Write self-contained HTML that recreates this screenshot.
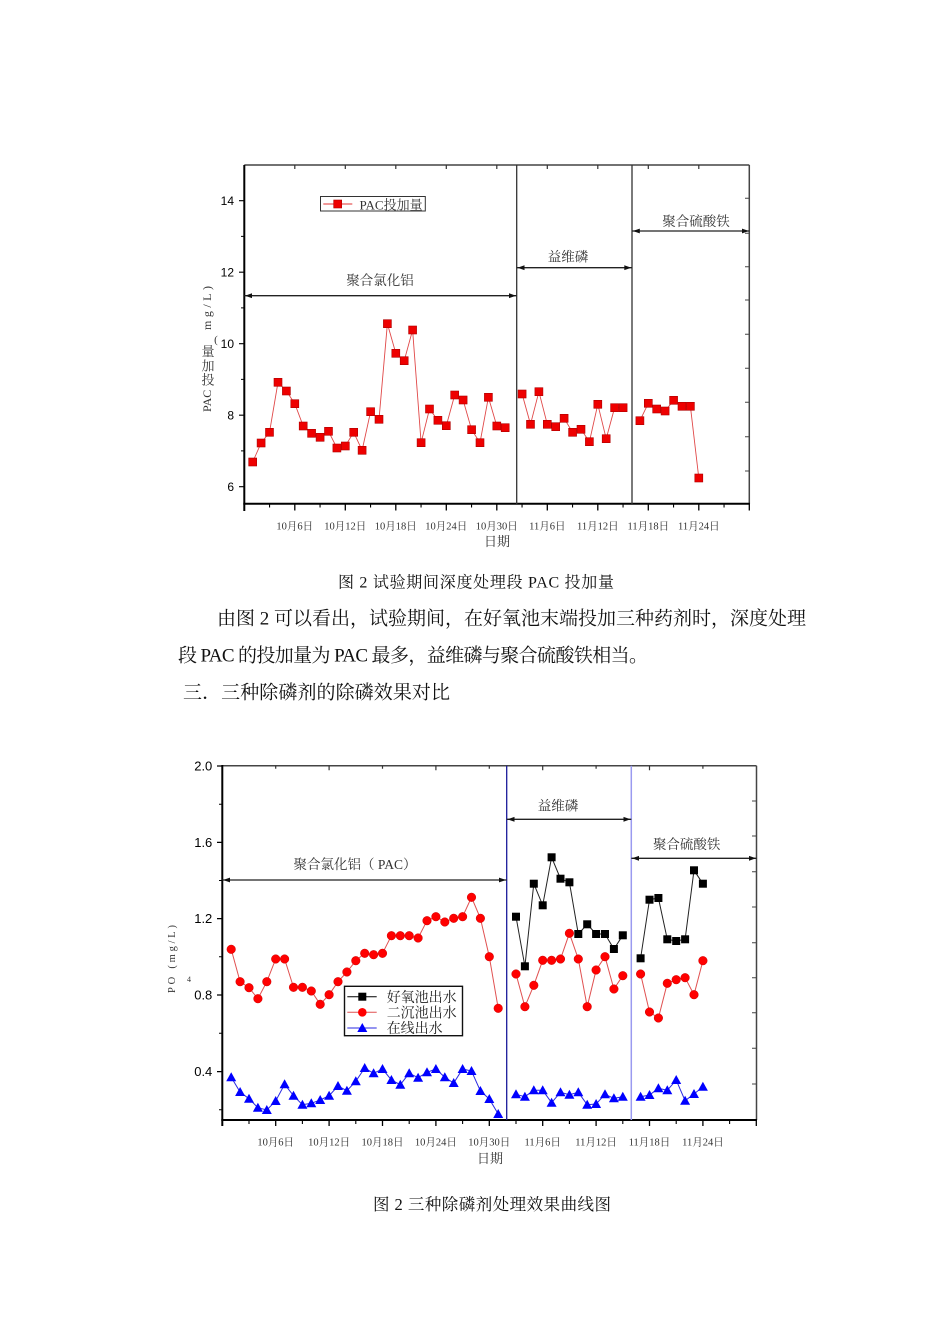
<!DOCTYPE html>
<html><head><meta charset="utf-8">
<style>
html,body{margin:0;padding:0;background:#fff;}
svg{display:block;}
.ser{font-family:"Liberation Serif","Noto Serif CJK SC",serif;}
.san{font-family:"Liberation Sans","Noto Sans CJK SC",sans-serif;}
</style></head>
<body>
<svg width="950" height="1344" viewBox="0 0 950 1344" xmlns="http://www.w3.org/2000/svg">
<defs>
<marker id="sqR" markerUnits="userSpaceOnUse" markerWidth="10" markerHeight="10" refX="5" refY="5" overflow="visible"><rect x="1" y="1" width="8" height="8" fill="#ee0000" stroke="#b00000" stroke-width="0.6"/></marker>
<marker id="ciR" markerUnits="userSpaceOnUse" markerWidth="10" markerHeight="10" refX="5" refY="5" overflow="visible"><circle cx="5" cy="5" r="4.3" fill="#ff0000" stroke="#d00000" stroke-width="0.5"/></marker>
<marker id="sqK" markerUnits="userSpaceOnUse" markerWidth="10" markerHeight="10" refX="5" refY="5" overflow="visible"><rect x="1" y="1" width="8" height="8" fill="#000"/></marker>
<marker id="trB" markerUnits="userSpaceOnUse" markerWidth="11" markerHeight="10" refX="5" refY="5" overflow="visible"><polygon points="5,0 10,9 0,9" fill="#0000ff"/></marker>
</defs>

<!-- ================= TOP CHART ================= -->
<!-- frame -->
<line x1="244.3" y1="165" x2="749.3" y2="165" stroke="#444" stroke-width="1.5"/>
<line x1="749.3" y1="165" x2="749.3" y2="504" stroke="#444" stroke-width="1.5"/>
<line x1="244.3" y1="165" x2="244.3" y2="511" stroke="#000" stroke-width="2"/>
<line x1="243.3" y1="503.8" x2="749.8" y2="503.8" stroke="#000" stroke-width="2"/>
<!-- separators -->
<line x1="516.7" y1="165" x2="516.7" y2="504" stroke="#333" stroke-width="1.3"/>
<line x1="632" y1="165" x2="632" y2="504" stroke="#333" stroke-width="1.3"/>
<!-- left ticks -->
<path d="M239 486.7H244.3M239 415.2H244.3M239 343.7H244.3M239 272.2H244.3M239 200.7H244.3" stroke="#000" stroke-width="1.2"/>
<path d="M241 450.9H244.3M241 379.4H244.3M241 307.9H244.3M241 236.4H244.3" stroke="#000" stroke-width="1"/>
<!-- right ticks -->
<path d="M745 198.3H749.3M745 233.3H749.3M745 266.7H749.3M745 300H749.3M745 334.3H749.3M745 368.3H749.3M745 402.3H749.3M745 436.7H749.3M745 471H749.3" stroke="#444" stroke-width="1"/>
<!-- top ticks -->
<path d="M294.8 165v4M345.3 165v4M395.8 165v4M446.3 165v4M496.8 165v4M547.3 165v4M597.8 165v4M648.3 165v4M698.8 165v4" stroke="#333" stroke-width="1.2"/>
<!-- bottom ticks -->
<path d="M294.8 503.5v7M345.3 503.5v7M395.8 503.5v7M446.3 503.5v7M496.8 503.5v7M547.3 503.5v7M597.8 503.5v7M648.3 503.5v7M698.8 503.5v7M749.3 503.5v7" stroke="#000" stroke-width="1.3"/>
<path d="M269.55 503.5v4M320.05 503.5v4M370.55 503.5v4M421.05 503.5v4M471.55 503.5v4M522.05 503.5v4M572.55 503.5v4M623.05 503.5v4M673.55 503.5v4M724.05 503.5v4" stroke="#000" stroke-width="1.1"/>
<!-- y tick labels -->
<g class="san" font-size="12" fill="#000" text-anchor="end">
<text x="234" y="491">6</text>
<text x="234" y="419.5">8</text>
<text x="234" y="348">10</text>
<text x="234" y="276.5">12</text>
<text x="234" y="205">14</text>
</g>
<!-- x tick labels -->
<g class="ser" font-size="10.5" fill="#333" text-anchor="middle">
<text x="294.8" y="529.7">10月6日</text>
<text x="345.3" y="529.7">10月12日</text>
<text x="395.8" y="529.7">10月18日</text>
<text x="446.3" y="529.7">10月24日</text>
<text x="496.8" y="529.7">10月30日</text>
<text x="547.3" y="529.7">11月6日</text>
<text x="597.8" y="529.7">11月12日</text>
<text x="648.3" y="529.7">11月18日</text>
<text x="698.8" y="529.7">11月24日</text>
</g>
<text class="ser" x="497" y="546" font-size="13" fill="#333" text-anchor="middle">日期</text>
<!-- y label -->
<g class="ser" fill="#333">
<text x="211" y="412" font-size="12" transform="rotate(-90 211 412)">PAC</text>
<text x="208" y="384.5" font-size="13" text-anchor="middle">投</text>
<text x="208" y="370.5" font-size="13" text-anchor="middle">加</text>
<text x="208" y="356" font-size="13" text-anchor="middle">量</text>
<text x="216" y="343" font-size="11" text-anchor="middle">(</text>
<text x="211" y="330" font-size="12" transform="rotate(-90 211 330)" textLength="44" lengthAdjust="spacing">mg/L)</text>
</g>
<!-- arrows -->
<g stroke="#222" stroke-width="1.3">
<line x1="244.3" y1="295.7" x2="516.7" y2="295.7"/>
<line x1="516.7" y1="267.7" x2="632" y2="267.7"/>
<line x1="632" y1="231" x2="749.3" y2="231"/>
</g>
<g fill="#111">
<polygon points="245,295.7 252,293.3 252,298.1"/><polygon points="516,295.7 509,293.3 509,298.1"/>
<polygon points="517.5,267.7 524.5,265.3 524.5,270.1"/><polygon points="631.3,267.7 624.3,265.3 624.3,270.1"/>
<polygon points="632.8,231 639.8,228.6 639.8,233.4"/><polygon points="749,231 742,228.6 742,233.4"/>
</g>
<g class="ser" font-size="13.5" fill="#333" text-anchor="middle">
<text x="380" y="284.8">聚合氯化铝</text>
<text x="568" y="261.6">益维磷</text>
<text x="696" y="225.8">聚合硫酸铁</text>
</g>
<!-- legend -->
<rect x="320.5" y="196.5" width="104.8" height="14.5" fill="#fff" stroke="#333" stroke-width="1"/>
<line x1="323.3" y1="204" x2="352.3" y2="204" stroke="#e03030" stroke-width="1"/>
<rect x="333.7" y="200" width="8" height="8" fill="#ee0000" stroke="#b00000" stroke-width="0.6"/>
<text class="ser" x="359.5" y="209.5" font-size="13" fill="#333">PAC投加量</text>
<!-- data -->
<g fill="none" stroke="#e04848" stroke-width="0.9" marker-start="url(#sqR)" marker-mid="url(#sqR)" marker-end="url(#sqR)">
<polyline points="252.7,462 261.1,443 269.5,432.3 278.0,382.3 286.4,391 294.8,403.7 303.2,426 311.6,433.3 320.1,437.3 328.5,431.3 336.9,448 345.3,446 353.7,432.3 362.1,450.3 370.6,411.7 379.0,419.3 387.4,323.7 395.8,353.3 404.2,360.7 412.6,330 421.1,442.7 429.5,409 437.9,420.3 446.3,425.7 454.7,395 463.1,400 471.6,429.7 480.0,442.7 488.4,397.3 496.8,426 505.2,427.7"/>
<polyline points="522.1,394 530.5,424.3 538.9,391.7 547.3,424.3 555.7,426.7 564.1,418.3 572.6,432.3 581.0,429.3 589.4,441.7 597.8,404.3 606.2,438.7 614.6,407.7 623.1,407.7"/>
<polyline points="639.9,420.7 648.3,403.3 656.7,409 665.1,411 673.6,400.3 682.0,406.3 690.4,406.3 698.8,478"/>
</g>

<!-- ================= TEXT ================= -->
<g class="ser" fill="#111">
<text x="338" y="587.5" font-size="16" textLength="276" lengthAdjust="spacing">图 2  试验期间深度处理段 PAC 投加量</text>
<text x="217" y="624.5" font-size="19" textLength="589" lengthAdjust="spacing">由图 2 可以看出，试验期间，在好氧池末端投加三种药剂时，深度处理</text>
<text x="178" y="661.5" font-size="19" textLength="470" lengthAdjust="spacing">段 PAC 的投加量为 PAC 最多，益维磷与聚合硫酸铁相当。</text>
<text x="183" y="698.5" font-size="19" textLength="267" lengthAdjust="spacing">三．三种除磷剂的除磷效果对比</text>
<text x="373" y="1209.8" font-size="16.5" textLength="238" lengthAdjust="spacing">图 2  三种除磷剂处理效果曲线图</text>
</g>

<!-- ================= BOTTOM CHART ================= -->
<line x1="222.3" y1="765.7" x2="756.5" y2="765.7" stroke="#444" stroke-width="1.5"/>
<line x1="756.5" y1="765.7" x2="756.5" y2="1120" stroke="#444" stroke-width="1.5"/>
<line x1="222.3" y1="765" x2="222.3" y2="1126" stroke="#000" stroke-width="2"/>
<line x1="221.3" y1="1120" x2="757" y2="1120" stroke="#000" stroke-width="2"/>
<line x1="506.7" y1="765.7" x2="506.7" y2="1120" stroke="#1a1a9a" stroke-width="1.3"/>
<line x1="631.3" y1="765.7" x2="631.3" y2="1120" stroke="#9a9af0" stroke-width="1.5"/>
<!-- left ticks -->
<path d="M217 766H222.3M217 842.4H222.3M217 918.6H222.3M217 995H222.3M217 1071.6H222.3" stroke="#000" stroke-width="1.2"/>
<path d="M219 804.2H222.3M219 880.5H222.3M219 956.8H222.3M219 1033.3H222.3M219 1109.8H222.3" stroke="#000" stroke-width="1"/>
<!-- right ticks -->
<path d="M752 801H756.5M752 836H756.5M752 871.7H756.5M752 907H756.5M752 942.7H756.5M752 977.7H756.5M752 1012.7H756.5M752 1048.3H756.5M752 1084H756.5" stroke="#444" stroke-width="1"/>
<!-- top ticks -->
<path d="M275.7 765.7v3M329.1 765.7v4.5M382.5 765.7v3M435.9 765.7v4.5M489.3 765.7v3M542.7 765.7v4.5M596.1 765.7v3M649.5 765.7v4.5M702.9 765.7v3" stroke="#333" stroke-width="1.2"/>
<!-- bottom ticks -->
<path d="M275.7 1120v6M329.1 1120v6M382.5 1120v6M435.9 1120v6M489.3 1120v6M542.7 1120v6M596.1 1120v6M649.5 1120v6M702.9 1120v6M756.3 1120v6" stroke="#000" stroke-width="1.3"/>
<path d="M249 1120v4M302.4 1120v4M355.8 1120v4M409.2 1120v4M462.6 1120v4M516 1120v4M569.4 1120v4M622.8 1120v4M676.2 1120v4M729.6 1120v4" stroke="#000" stroke-width="1.1"/>
<!-- y tick labels -->
<g class="san" font-size="13" fill="#000" text-anchor="end">
<text x="212.3" y="770.7">2.0</text>
<text x="212.3" y="847">1.6</text>
<text x="212.3" y="923.2">1.2</text>
<text x="212.3" y="999.6">0.8</text>
<text x="212.3" y="1076.2">0.4</text>
</g>
<!-- x tick labels -->
<g class="ser" font-size="10.5" fill="#333" text-anchor="middle">
<text x="275.7" y="1145.3">10月6日</text>
<text x="329.1" y="1145.3">10月12日</text>
<text x="382.5" y="1145.3">10月18日</text>
<text x="435.9" y="1145.3">10月24日</text>
<text x="489.3" y="1145.3">10月30日</text>
<text x="542.7" y="1145.3">11月6日</text>
<text x="596.1" y="1145.3">11月12日</text>
<text x="649.5" y="1145.3">11月18日</text>
<text x="702.9" y="1145.3">11月24日</text>
</g>
<text class="ser" x="490" y="1163" font-size="13" fill="#333" text-anchor="middle">日期</text>
<!-- y label -->
<g class="ser" fill="#333">
<text x="175" y="993" font-size="10.5" transform="rotate(-90 175 993)" textLength="68" lengthAdjust="spacing">PO (mg/L)</text>
<text x="187" y="982" font-size="8">4</text>
</g>
<!-- arrows -->
<g stroke="#222" stroke-width="1.3">
<line x1="222.3" y1="880" x2="506.7" y2="880"/>
<line x1="506.7" y1="819.3" x2="631.3" y2="819.3"/>
<line x1="631.3" y1="858.3" x2="756.5" y2="858.3"/>
</g>
<g fill="#111">
<polygon points="223,880 230,877.6 230,882.4"/><polygon points="506,880 499,877.6 499,882.4"/>
<polygon points="507.5,819.3 514.5,816.9 514.5,821.7"/><polygon points="630.5,819.3 623.5,816.9 623.5,821.7"/>
<polygon points="632,858.3 639,855.9 639,860.7"/><polygon points="756,858.3 749,855.9 749,860.7"/>
</g>
<g class="ser" font-size="13.5" fill="#333" text-anchor="middle">
<text x="355" y="868.8">聚合氯化铝（ PAC）</text>
<text x="558" y="810.5">益维磷</text>
<text x="686.7" y="849.1">聚合硫酸铁</text>
</g>
<!-- data -->
<g fill="none" stroke="#e05050" stroke-width="1" marker-start="url(#ciR)" marker-mid="url(#ciR)" marker-end="url(#ciR)">
<polyline points="231.2,949.3 240.1,981.7 249.0,987.7 257.9,998.7 266.8,981.7 275.7,959 284.6,959 293.5,987.3 302.4,987.3 311.3,991 320.2,1004.3 329.1,994.7 338.0,981.7 346.9,972 355.8,960.7 364.7,953.3 373.6,954.7 382.5,953.3 391.4,935.7 400.3,935.7 409.2,935.7 418.1,938 427.0,920.7 435.9,916.7 444.8,922 453.7,918.3 462.6,916.7 471.5,897.3 480.4,918.3 489.3,956.7 498.2,1008.3"/>
<polyline points="516.0,974 524.9,1006.7 533.8,985.3 542.7,960.3 551.6,960.3 560.5,959 569.4,933.3 578.3,959 587.2,1006.7 596.1,970 605.0,956.7 613.9,989 622.8,975.7"/>
<polyline points="640.6,974 649.5,1012 658.4,1018 667.3,983.3 676.2,979.7 685.1,977.7 694.0,994.7 702.9,960.7"/>
</g>
<g fill="none" stroke="#2a2ae0" stroke-width="1" marker-start="url(#trB)" marker-mid="url(#trB)" marker-end="url(#trB)">
<polyline points="231.2,1077.3 240.1,1092 249.0,1098.7 257.9,1107.7 266.8,1110 275.7,1101 284.6,1084.3 293.5,1095.7 302.4,1104.7 311.3,1103.3 320.2,1100 329.1,1095.7 338.0,1086 346.9,1090.7 355.8,1081.3 364.7,1068 373.6,1073.3 382.5,1069 391.4,1080 400.3,1084.7 409.2,1073.3 418.1,1077.7 427.0,1072.3 435.9,1069 444.8,1077.3 453.7,1083 462.6,1069 471.5,1071 480.4,1091 489.3,1099 498.2,1114"/>
<polyline points="516.0,1094.3 524.9,1096.7 533.8,1090.3 542.7,1090.3 551.6,1102.7 560.5,1092.3 569.4,1094.7 578.3,1092.3 587.2,1104.7 596.1,1104 605.0,1094.3 613.9,1098.3 622.8,1096.7"/>
<polyline points="640.6,1096.7 649.5,1095 658.4,1088.3 667.3,1090.3 676.2,1080 685.1,1100.7 694.0,1094 702.9,1086.7"/>
</g>
<g fill="none" stroke="#222" stroke-width="1" marker-start="url(#sqK)" marker-mid="url(#sqK)" marker-end="url(#sqK)">
<polyline points="516.0,916.7 524.9,966.3 533.8,883.7 542.7,905.3 551.6,857.3 560.5,878.7 569.4,882.3 578.3,934 587.2,924.3 596.1,934 605.0,934 613.9,949 622.8,935.3"/>
<polyline points="640.6,958.3 649.5,899.7 658.4,898 667.3,939.3 676.2,941 685.1,939.3 694.0,870.3 702.9,883.7"/>
</g>
<!-- legend -->
<rect x="344.5" y="986.3" width="118" height="49.4" fill="#fff" stroke="#111" stroke-width="1.4"/>
<line x1="347.3" y1="996.7" x2="376.7" y2="996.7" stroke="#000" stroke-width="1"/>
<rect x="358.3" y="992.7" width="8" height="8" fill="#000"/>
<line x1="347.3" y1="1012.3" x2="376.7" y2="1012.3" stroke="#e05050" stroke-width="1"/>
<circle cx="362.3" cy="1012.3" r="4.3" fill="#ff0000"/>
<line x1="347.3" y1="1028" x2="376.7" y2="1028" stroke="#2a2ae0" stroke-width="1"/>
<polygon points="362.3,1023 367.3,1032 357.3,1032" fill="#0000ff"/>
<g class="ser" font-size="14" fill="#222">
<text x="386.7" y="1001.8">好氧池出水</text>
<text x="386.7" y="1017.4">二沉池出水</text>
<text x="386.7" y="1033.1">在线出水</text>
</g>
</svg>
</body></html>
